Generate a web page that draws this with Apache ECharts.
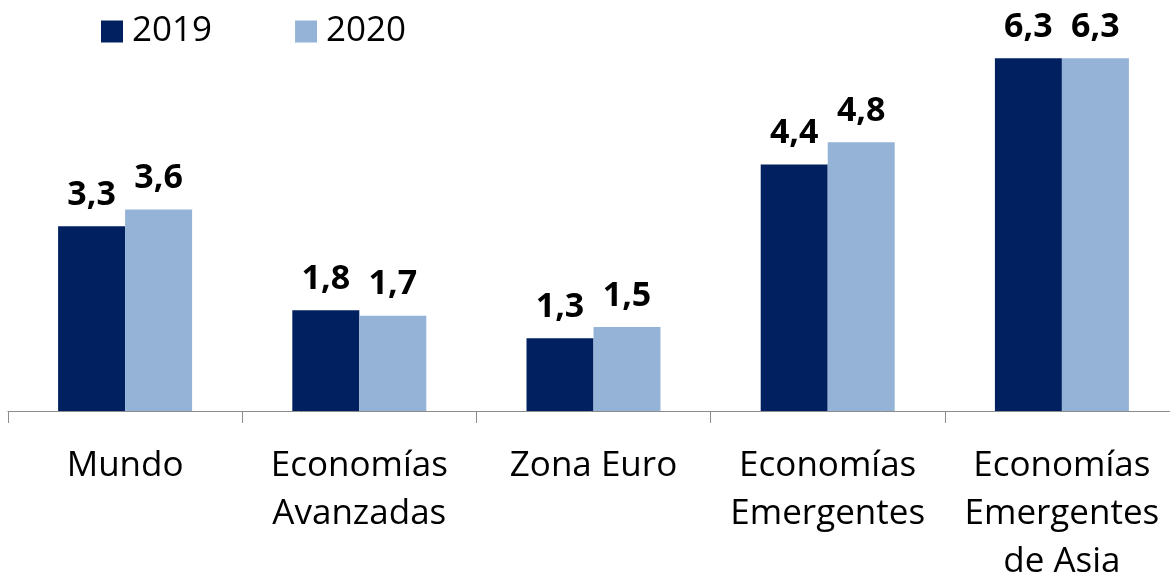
<!DOCTYPE html>
<html>
<head>
<meta charset="utf-8">
<script src="https://cdn.jsdelivr.net/npm/echarts@6/dist/echarts.min.js"></script>
<style>
  html, body { margin: 0; padding: 0; background: #fff; }
  #main { width: 1170px; height: 578px; }
</style>
</head>
<body>
<div id="main"></div>
<script>
// categorias y valores (crecimiento %)
var categories = ["Mundo", "Economías\nAvanzadas", "Zona Euro", "Economías\nEmergentes", "Economías\nEmergentes\nde Asia"];
var years = ["2019", "2020"];
var values2019 = [3.3, 1.8, 1.3, 4.4, 6.3];
var values2020 = [3.6, 1.7, 1.5, 4.8, 6.3];

var chart = echarts.init(document.getElementById('main'));
var font = "'Open Sans', 'Liberation Sans', sans-serif";

function fmt(p) {
    return p.value.toFixed(1).replace('.', ',');
}

var labelStyle = {
    show: true,
    position: 'top',
    distance: 14,
    formatter: fmt,
    fontFamily: font,
    fontSize: 34,
    fontWeight: 'bold',
    color: '#000'
};

chart.setOption({
    animation: false,
    legend: {
        data: years,
        left: 96,
        top: 9,
        itemWidth: 22,
        itemHeight: 22,
        itemGap: 83,
        icon: 'rect',
        textStyle: { fontFamily: font, fontSize: 35, color: '#000', padding: [0, 0, 0, 4] }
    },
    grid: { left: 8, width: 1171, top: 19, height: 392, containLabel: false, outerBoundsMode: 'none' },
    xAxis: {
        type: 'category',
        data: categories,
        axisLine: { lineStyle: { color: '#8c8c8c', width: 1 } },
        axisTick: { show: true, length: 12, lineStyle: { color: '#8c8c8c' } },
        axisLabel: {
            interval: 0,
            margin: 31,
            fontFamily: font,
            fontSize: 35,
            lineHeight: 48,
            color: '#000'
        }
    },
    yAxis: {
        type: 'value',
        min: 0,
        max: 7,
        show: false,
        splitLine: { show: false }
    },
    series: [
        {
            name: years[0],
            type: 'bar',
            data: values2019,
            barWidth: 67,
            barGap: '0%',
            itemStyle: { color: '#002060' },
            label: labelStyle
        },
        {
            name: years[1],
            type: 'bar',
            data: values2020,
            barWidth: 67,
            barGap: '0%',
            itemStyle: { color: '#95b3d7' },
            label: labelStyle
        }
    ]
});
</script>
</body>
</html>
